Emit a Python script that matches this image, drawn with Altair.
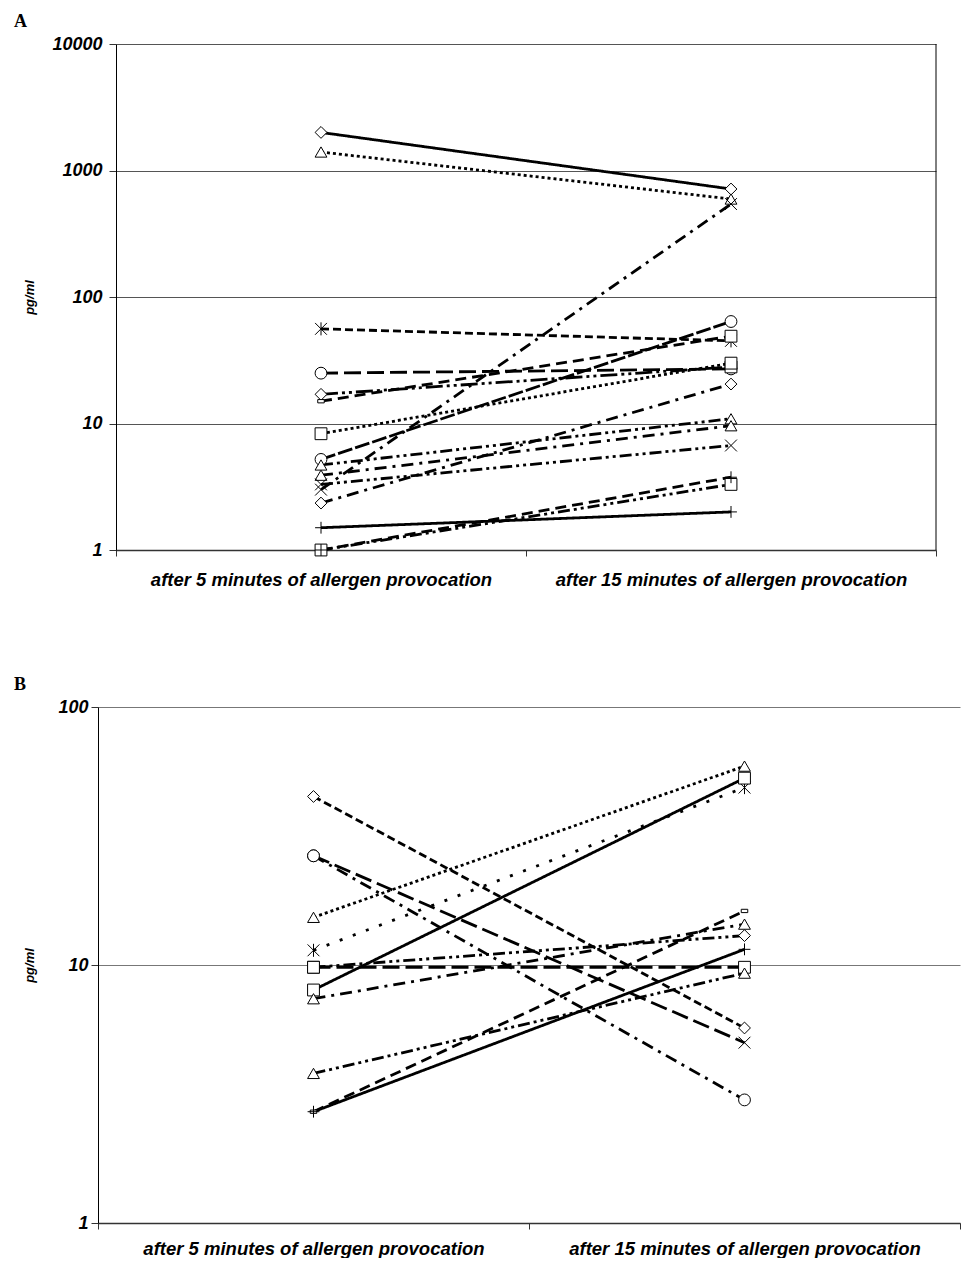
import altair as alt
import pandas as pd

CATS = ["after 5 minutes of allergen provocation", "after 15 minutes of allergen provocation"]

# ---- Panel A (16 series) ----
A_t5 = [2000, 1400, 56, 25, 17, 15, 8.3, 5.2, 3.0, 4.7, 3.9, 3.3, 2.35, 1.5, 1.0, 1.0]
A_t15 = [714, 595, 45, 27, 28, 49, 30, 64, 543, 10.9, 9.6, 6.7, 20.5, 2.0, 3.3, 3.76]
A_m5 = ["diamond", "triangle", "asterisk", "circle", "diamond", "shortdash", "square", "circle",
        "x", "triangle", "triangle", "x", "diamond", "plus", "square", "plus"]
A_m15 = ["diamond", "triangle", "asterisk", "circle", "square", "square", "square", "circle",
         "x", "triangle", "triangle", "x", "diamond", "plus", "square", "plus"]
A_style = ["solid", "dot", "shortdash", "longdash", "longdashdotdot", "dash", "dot", "longdash2",
           "dashdot", "dashdotdot", "dashdot", "dashdotdot", "dashdot", "solid", "dashdotdot", "dash"]
A_ticks = [1, 10, 100, 1000, 10000]

# ---- Panel B (12 series) ----
B_t5 = [45, 26.5, 26.5, 15.3, 11.4, 9.8, 9.8, 8.0, 7.4, 3.8, 2.7, 2.7]
B_t15 = [5.7, 5.0, 3.0, 59, 48.7, 13.0, 9.8, 53, 14.4, 9.3, 16.2, 11.5]
B_m5 = ["diamond", "circle", "circle", "triangle", "asterisk", "square", "square", "square",
        "triangle", "triangle", "shortdash", "plus"]
B_m15 = ["diamond", "x", "circle", "triangle", "asterisk", "diamond", "square", "square",
         "triangle", "triangle", "shortdash", "plus"]
B_style = ["shortdash", "longdash", "dashdot", "dot", "sparsedot", "dashdotdot", "longdash",
           "solid", "dashdot", "dashdotdot", "dash", "solid"]
B_ticks = [1, 10, 100]

SHAPE_DOMAIN = ["diamond", "triangle", "square", "circle", "x", "plus", "asterisk", "shortdash"]
SHAPE_RANGE = ["diamond", "triangle-up", "square", "circle",
               "M-1,-1L1,1M-1,1L1,-1",
               "M-1,0L1,0M0,-1L0,1",
               "M-1,-1L1,1M-1,1L1,-1M0,-1.1L0,1.1",
               "M-0.55,-0.28L0.55,-0.28L0.55,0.28L-0.55,0.28Z"]
DASH_DOMAIN = ["solid", "dot", "sparsedot", "shortdash", "dash", "longdash", "longdash2",
               "dashdot", "dashdotdot", "longdashdotdot"]
DASH_RANGE = [[1, 0], [3, 3], [3, 11], [8, 4], [11, 6], [17, 6], [15, 3],
              [12, 6, 3, 6], [12, 4, 3, 4, 3, 4], [17, 4, 3, 4, 3, 4]]


def build(t5, t15, m5, m15, style):
    rows = []
    for i in range(len(t5)):
        rows.append({"series": i, "time": CATS[0], "value": t5[i], "marker": m5[i], "style": style[i]})
        rows.append({"series": i, "time": CATS[1], "value": t15[i], "marker": m15[i], "style": style[i]})
    return pd.DataFrame(rows)


FONT = "Liberation Sans"


def panel(df, ticks, width, height, xstart, letter, grid_color, title_pad, label_pad, xlabel_pad,
          border):
    xscale = alt.Scale(type="band", paddingInner=0, paddingOuter=0, range=[xstart, width])
    x = alt.X("time:N", sort=CATS, scale=xscale,
              axis=alt.Axis(title=None, labelAngle=0, tickBand="extent", tickSize=6, labelLimit=0,
                            labelFont=FONT, labelFontSize=18.5, labelFontWeight="bold",
                            labelFontStyle="italic", labelColor="black", labelPadding=xlabel_pad,
                            domainColor="#333", domainWidth=1.5, tickColor="#333"))
    yscale = alt.Scale(type="log", domain=[ticks[0], ticks[-1]], nice=False)
    y = alt.Y("value:Q", scale=yscale,
              axis=alt.Axis(values=ticks, format="d", title="pg/ml", grid=True, offset=-xstart,
                            gridColor=grid_color, gridWidth=1, tickSize=7, tickColor="#333",
                            domainColor="black", labelFont=FONT, labelFontSize=18,
                            labelFontWeight="bold", labelFontStyle="italic", labelColor="black",
                            labelPadding=label_pad, titleFont=FONT, titleFontSize=13,
                            titleFontWeight="bold", titleFontStyle="italic", titleColor="black",
                            titlePadding=title_pad))
    lines = alt.Chart(df).mark_line(color="black", strokeWidth=2.8, strokeCap="butt").encode(
        x=x, y=y, detail="series:N",
        strokeDash=alt.StrokeDash("style:N", scale=alt.Scale(domain=DASH_DOMAIN, range=DASH_RANGE),
                                  legend=None),
        order="series:Q")
    points = alt.Chart(df).mark_point(filled=True, fill="white", stroke="black", strokeWidth=1,
                                      size=140, opacity=1).encode(
        x=x, y=y,
        shape=alt.Shape("marker:N", scale=alt.Scale(domain=SHAPE_DOMAIN, range=SHAPE_RANGE),
                        legend=None))
    layers = [lines, points]
    if border:
        bdf = pd.DataFrame({"time": [CATS[1]], "lo": [ticks[0]], "hi": [ticks[-1]]})
        edge = alt.Chart(bdf).mark_rule(color="black", strokeWidth=1).encode(
            x=alt.X("time:N", sort=CATS, scale=xscale, bandPosition=1),
            y=alt.Y("lo:Q", scale=yscale), y2="hi:Q")
        layers.append(edge)
    return alt.layer(*layers).properties(
        width=width, height=height,
        title=alt.TitleParams(letter, anchor="start", frame="bounds", font="Liberation Serif",
                              fontSize=18, fontWeight="bold", color="black", dx=-10, offset=4))


dfA = build(A_t5, A_t15, A_m5, A_m15, A_style)
dfB = build(B_t5, B_t15, B_m5, B_m15, B_style)

chartA = panel(dfA, A_ticks, 838, 506, 18, "A", "#555", 15, 7, 14, True)
chartB = panel(dfB, B_ticks, 862, 516, 0, "B", "#777", 21, 3, 10, False)

chart = alt.vconcat(chartA, chartB, spacing=86).properties(
    padding={"left": 5, "top": 4, "right": 0, "bottom": 0}
).configure_view(stroke="transparent")

chart.save("out.html", embed_options={"renderer": "svg", "actions": False})
